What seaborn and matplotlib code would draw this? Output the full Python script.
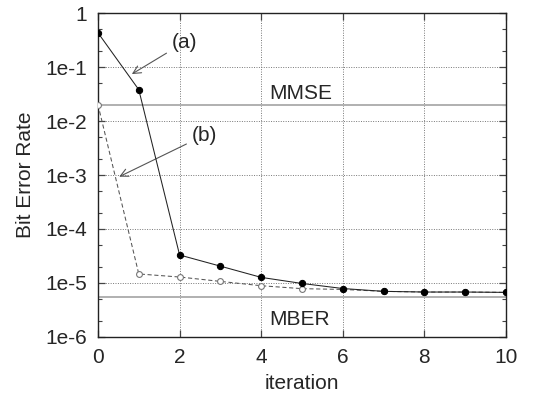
import numpy as np
import pandas as pd
import seaborn as sns
import matplotlib
matplotlib.use("Agg")
import matplotlib.pyplot as plt
from matplotlib.ticker import LogLocator, NullFormatter

# Bit error rate versus iteration for two adaptive schemes
iterations = [0, 1, 2, 3, 4, 5, 6, 7, 8, 9, 10]
ber_a = [4.3e-1, 3.8e-2, 3.3e-5, 2.05e-5, 1.27e-5, 9.8e-6, 7.9e-6, 7.0e-6, 6.8e-6, 6.8e-6, 6.7e-6]
ber_b = [2.0e-2, 1.47e-5, 1.29e-5, 1.07e-5, 8.9e-6, 7.85e-6, 7.6e-6, 7.0e-6, 6.8e-6, 6.8e-6, 6.7e-6]

# Reference levels
mmse_level = 2.0e-2
mber_level = 5.6e-6

ytick_values = [1, 1e-1, 1e-2, 1e-3, 1e-4, 1e-5, 1e-6]
ytick_labels = ["1", "1e-1", "1e-2", "1e-3", "1e-4", "1e-5", "1e-6"]
xtick_values = [0, 2, 4, 6, 8, 10]

df_a = pd.DataFrame({"iteration": iterations, "ber": ber_a})
df_b = pd.DataFrame({"iteration": iterations, "ber": ber_b})

sns.set_style("ticks")
plt.rcParams["font.family"] = ["Liberation Sans", "DejaVu Sans"]
FS = 15

fig = plt.figure(figsize=(5.39, 3.98), dpi=100)
ax = fig.add_axes([0.1818, 0.1533, 0.757, 0.814])

# horizontal reference lines
ax.axhline(mmse_level, color="#b0b0b0", lw=1.4, zorder=1)
ax.axhline(mber_level, color="#b0b0b0", lw=1.4, zorder=1)

sns.lineplot(data=df_b, x="iteration", y="ber", ax=ax, color="#555555",
             lw=0.75, linestyle=(0, (4, 2.5)), marker="o", markersize=4.2,
             markerfacecolor="white", markeredgecolor="#777777",
             markeredgewidth=0.8, zorder=3)
sns.lineplot(data=df_a, x="iteration", y="ber", ax=ax, color="#222222",
             lw=0.75, marker="o", markersize=4.5, markerfacecolor="black",
             markeredgecolor="black", zorder=4)

ax.set_yscale("log")
ax.set_xlim(0, 10)
ax.set_ylim(1e-6, 1)
ax.set_xticks(xtick_values)
ax.set_xticklabels([str(v) for v in xtick_values])
ax.set_yticks(ytick_values)
ax.set_yticklabels(ytick_labels)
ax.yaxis.set_minor_locator(LogLocator(base=10, subs=(2.0, 5.0), numticks=20))
ax.yaxis.set_minor_formatter(NullFormatter())

ax.grid(True, which="major", linestyle=(0, (1, 1.5)), color="#777777", lw=0.7)
ax.tick_params(which="both", direction="in", top=True, right=True,
               labelsize=FS, pad=8, color="#444444")
ax.tick_params(which="major", length=5, width=0.9)
ax.tick_params(which="minor", length=3, width=0.8)
for s in ax.spines.values():
    s.set_color("#222222")
    s.set_linewidth(1.0)

ax.set_xlabel("iteration", fontsize=FS, labelpad=5)
ax.set_ylabel("Bit Error Rate", fontsize=FS, labelpad=7)

ax.text(4.97, 3.3e-2, "MMSE", fontsize=FS, ha="center", va="center")
ax.text(4.95, 2.07e-6, "MBER", fontsize=FS, ha="center", va="center")

arrow = dict(arrowstyle="->", color="#555555", lw=0.8, shrinkA=2, shrinkB=0,
             mutation_scale=14)
ax.annotate("(a)", xy=(0.83, 0.074), xytext=(2.13, 0.29), fontsize=FS,
            ha="center", va="center", arrowprops=arrow)
ax.annotate("(b)", xy=(0.52, 9.3e-4), xytext=(2.62, 5.5e-3), fontsize=FS,
            ha="center", va="center", arrowprops=arrow)

fig.savefig("out.png", dpi=100)
